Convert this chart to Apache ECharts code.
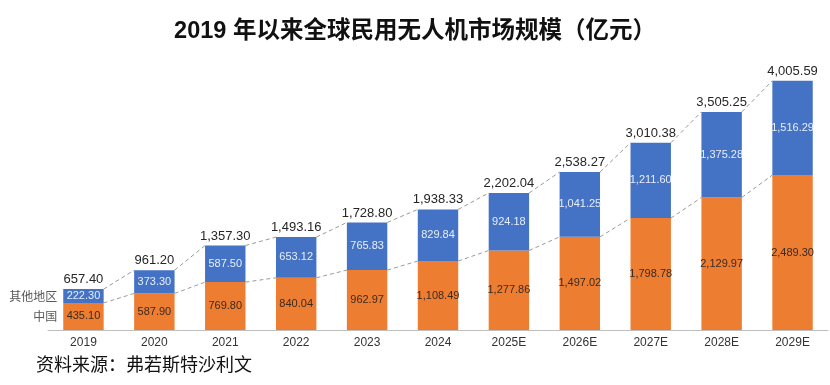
<!DOCTYPE html>
<html><head><meta charset="utf-8">
<script src="https://cdn.jsdelivr.net/npm/echarts@6/dist/echarts.min.js"></script>
<style>html,body{margin:0;padding:0;background:#fff}#c{width:830px;height:385px}</style>
</head><body><div id="c"></div>
<script>
const categories = ['2019','2020','2021','2022','2023','2024','2025E','2026E','2027E','2028E','2029E'];
const chinaValues = [435.10, 587.90, 769.80, 840.04, 962.97, 1108.49, 1277.86, 1497.02, 1798.78, 2129.97, 2489.30];
const otherValues = [222.30, 373.30, 587.50, 653.12, 765.83, 829.84, 924.18, 1041.25, 1211.60, 1375.28, 1516.29];
const totalValues = [657.40, 961.20, 1357.30, 1493.16, 1728.80, 1938.33, 2202.04, 2538.27, 3010.38, 3505.25, 4005.59];
const seriesNames = ['中国', '其他地区'];

const BAR_RATIO = 0.57;
const fmt = v => v.toLocaleString('en-US', {minimumFractionDigits: 2, maximumFractionDigits: 2});
const numFont = 'Liberation Sans, Arial, sans-serif';

const chart = echarts.init(document.getElementById('c'));

function connectorData(arr) {
  const d = [];
  for (let i = 0; i < arr.length - 1; i++) d.push([i, arr[i], arr[i + 1]]);
  return d;
}
function connectorRender(params, api) {
  const i = api.value(0);
  const p1 = api.coord([i, api.value(1)]);
  const p2 = api.coord([i + 1, api.value(2)]);
  const hw = api.size([1, 0])[0] * BAR_RATIO / 2;
  return {
    type: 'line',
    shape: {x1: p1[0] + hw, y1: p1[1], x2: p2[0] - hw, y2: p2[1]},
    style: {stroke: '#9a9a9a', lineWidth: 1, lineDash: [4, 3]}
  };
}

chart.setOption({
  animation: false,
  title: {
    text: '2019 年以来全球民用无人机市场规模（亿元）',
    left: 'center', top: 15,
    textStyle: {fontSize: 23.5, fontWeight: 'bold', color: '#111', fontFamily: 'Liberation Sans, Noto Sans CJK SC, sans-serif'}
  },
  graphic: [{
    type: 'text', left: 36, top: 355,
    style: {text: '资料来源：弗若斯特沙利文', fontSize: 18, fill: '#111', fontFamily: 'Noto Sans CJK SC, serif'}
  }],
  grid: {left: 48, right: 2, top: 50, bottom: 55},
  xAxis: {
    type: 'category', data: categories,
    axisLine: {lineStyle: {color: '#bfbfbf', width: 1}},
    axisTick: {show: false},
    axisLabel: {color: '#333', fontSize: 12, margin: 7, fontFamily: numFont}
  },
  yAxis: {type: 'value', min: 0, max: 4500, show: false, splitLine: {show: false}},
  series: [
    {
      name: seriesNames[0], type: 'bar', stack: 's', barWidth: (BAR_RATIO * 100) + '%',
      data: chinaValues,
      itemStyle: {color: '#ED7D31'},
      label: {show: true, position: 'inside', color: '#3a2a20', fontSize: 11, fontFamily: numFont,
        formatter: p => fmt(p.value)}
    },
    {
      name: seriesNames[1], type: 'bar', stack: 's',
      data: otherValues,
      itemStyle: {color: '#4472C4'},
      label: {show: true, position: 'inside', color: '#e8eef8', fontSize: 11, fontFamily: numFont,
        formatter: p => fmt(p.value)}
    },
    {
      type: 'custom', name: 'totals',
      data: totalValues.map((v, i) => [i, v]),
      renderItem: (params, api) => {
        const p = api.coord([api.value(0), api.value(1)]);
        return {type: 'text', x: p[0], y: p[1] - 3,
          style: {text: fmt(api.value(1)), textAlign: 'center', textVerticalAlign: 'bottom',
            fontSize: 13, fill: '#262626', fontFamily: numFont}};
      },
      z: 5
    },
    {type: 'custom', name: 'connTotal', data: connectorData(totalValues), renderItem: connectorRender, z: 1},
    {type: 'custom', name: 'connChina', data: connectorData(chinaValues), renderItem: connectorRender, z: 1},
    {
      type: 'custom', name: 'legendText',
      data: [[0, chinaValues[0] / 2, 0], [0, chinaValues[0] + otherValues[0] / 2, 1]],
      renderItem: (params, api) => {
        const p = api.coord([api.value(0), api.value(1)]);
        const hw = api.size([1, 0])[0] * BAR_RATIO / 2;
        return {type: 'text', x: p[0] - hw - 6, y: p[1],
          style: {text: seriesNames[api.value(2)], textAlign: 'right', textVerticalAlign: 'middle',
            fontSize: 12, fill: '#595959', fontFamily: 'Noto Sans CJK SC, sans-serif'}};
      }
    }
  ]
});
</script></body></html>
